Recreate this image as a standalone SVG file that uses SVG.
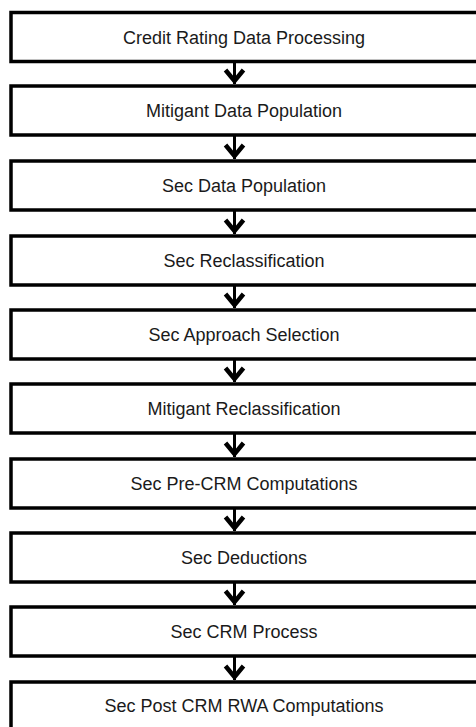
<svg xmlns="http://www.w3.org/2000/svg" width="476" height="727" viewBox="0 0 476 727">
<style>
.box{fill:#fff;stroke:#000;stroke-width:3.5}
.lbl{font-family:"Liberation Sans",Arial,sans-serif;font-size:18px;fill:#1a1a1a;text-anchor:middle}
.ln{stroke:#000;stroke-width:3;fill:none}
.hd{stroke:#000;stroke-width:4.5;fill:none;stroke-linejoin:miter;stroke-linecap:butt}
</style>
<rect width="476" height="727" fill="#fff"/>
<g id="connectors">
<line class="ln" x1="234.5" y1="61.5" x2="234.5" y2="84"/><polyline class="hd" points="225.5,70 234.5,81 243.5,70"/>
<line class="ln" x1="234.5" y1="135" x2="234.5" y2="159"/><polyline class="hd" points="225.5,145 234.5,156 243.5,145"/>
<line class="ln" x1="234.5" y1="210" x2="234.5" y2="234"/><polyline class="hd" points="225.5,220 234.5,231 243.5,220"/>
<line class="ln" x1="234.5" y1="285" x2="234.5" y2="308"/><polyline class="hd" points="225.5,294 234.5,305 243.5,294"/>
<line class="ln" x1="234.5" y1="359" x2="234.5" y2="382"/><polyline class="hd" points="225.5,368 234.5,379 243.5,368"/>
<line class="ln" x1="234.5" y1="433" x2="234.5" y2="457"/><polyline class="hd" points="225.5,443 234.5,454 243.5,443"/>
<line class="ln" x1="234.5" y1="508" x2="234.5" y2="531"/><polyline class="hd" points="225.5,517 234.5,528 243.5,517"/>
<line class="ln" x1="234.5" y1="582" x2="234.5" y2="605"/><polyline class="hd" points="225.5,591 234.5,602 243.5,591"/>
<line class="ln" x1="234.5" y1="656" x2="234.5" y2="680"/><polyline class="hd" points="225.5,666 234.5,677 243.5,666"/>
</g>
<g id="n1"><rect class="box" x="11" y="12.5" width="480" height="49"/><text class="lbl" x="244" y="43.5">Credit Rating Data Processing</text></g>
<g id="n2"><rect class="box" x="11" y="86" width="480" height="49"/><text class="lbl" x="244" y="117">Mitigant Data Population</text></g>
<g id="n3"><rect class="box" x="11" y="161" width="480" height="49"/><text class="lbl" x="244" y="192">Sec Data Population</text></g>
<g id="n4"><rect class="box" x="11" y="236" width="480" height="49"/><text class="lbl" x="244" y="267">Sec Reclassification</text></g>
<g id="n5"><rect class="box" x="11" y="310" width="480" height="49"/><text class="lbl" x="244" y="341">Sec Approach Selection</text></g>
<g id="n6"><rect class="box" x="11" y="384" width="480" height="49"/><text class="lbl" x="244" y="415">Mitigant Reclassification</text></g>
<g id="n7"><rect class="box" x="11" y="459" width="480" height="49"/><text class="lbl" x="244" y="490">Sec Pre-CRM Computations</text></g>
<g id="n8"><rect class="box" x="11" y="533" width="480" height="49"/><text class="lbl" x="244" y="564">Sec Deductions</text></g>
<g id="n9"><rect class="box" x="11" y="607" width="480" height="49"/><text class="lbl" x="244" y="638">Sec CRM Process</text></g>
<g id="n10"><rect class="box" x="11" y="682" width="480" height="49"/><text class="lbl" x="244" y="712">Sec Post CRM RWA Computations</text></g>
</svg>
